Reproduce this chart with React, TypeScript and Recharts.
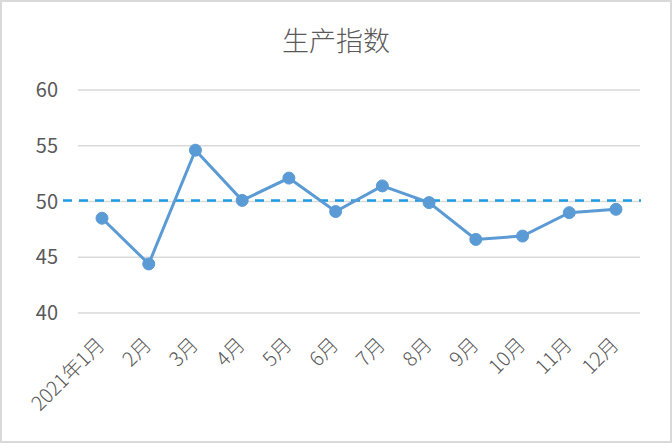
import { LineChart, Line, XAxis, YAxis, CartesianGrid, ReferenceLine } from 'recharts';

const months = ['2021年1月', '2月', '3月', '4月', '5月', '6月', '7月', '8月', '9月', '10月', '11月', '12月'];
const productionIndex = [48.5, 44.4, 54.6, 50.1, 52.1, 49.1, 51.4, 49.9, 46.6, 46.9, 49.0, 49.3];
const yTicks = [40, 45, 50, 55, 60];
const threshold = 50;

const data = months.map((month, i) => ({ month, value: productionIndex[i] }));

const FONT = '"Noto Sans CJK SC", "Noto Sans", sans-serif';

function MonthTick(props: any) {
  const { x, y, payload } = props;
  const ax = x + 4;
  const ay = y + 25;
  return (
    <text
      x={ax}
      y={ay}
      transform={`rotate(-45, ${ax}, ${ay})`}
      textAnchor="end"
      fill="#595959"
      fontSize={20}
      fontWeight={300}
      fontFamily={FONT}
    >
      {payload.value}
    </text>
  );
}

// dashed 50 line runs a bit past the plot on the left, like the original
function DashedLine(props: any) {
  const { x1, x2, y1 } = props;
  return (
    <line x1={x1 - 15} x2={x2 + 1} y1={y1 - 1} y2={y1 - 1} stroke="#1f9be0" strokeWidth={2.5} strokeDasharray="9 7" />
  );
}

export default function App() {
  return (
    <div
      style={{
        position: 'absolute',
        left: 0,
        top: 0,
        width: 668,
        height: 439,
        border: '2px solid #d9d9d9',
        background: '#fff',
      }}
    >
      <div
        style={{
          position: 'absolute',
          top: 18,
          width: '100%',
          textAlign: 'center',
          fontFamily: FONT,
          fontSize: 27,
          fontWeight: 300,
          color: '#595959',
        }}
      >
        生产指数
      </div>
      <div style={{ position: 'absolute', left: -2, top: -2 }}>
        <LineChart width={672} height={443} data={data} margin={{ top: 90, right: 32, left: 0, bottom: 0 }}>
          <CartesianGrid vertical={false} stroke="#d9d9d9" strokeWidth={1.5} />
          <XAxis
            dataKey="month"
            interval={0}
            padding={{ left: 24, right: 24 }}
            axisLine={false}
            tickLine={false}
            height={130}
            tick={<MonthTick />}
          />
          <YAxis
            domain={[40, 60]}
            ticks={yTicks}
            width={78}
            axisLine={false}
            tickLine={false}
            tickSize={0}
            tickMargin={20}
            tick={{ fill: '#595959', fontSize: 20, fontFamily: FONT }}
          />
          <ReferenceLine y={threshold} shape={<DashedLine />} />
          <Line
            type="linear"
            dataKey="value"
            stroke="#5b9bd5"
            strokeWidth={3}
            dot={{ r: 6, fill: '#5b9bd5', stroke: '#5b9bd5', strokeWidth: 1 }}
            isAnimationActive={false}
          />
        </LineChart>
      </div>
    </div>
  );
}
